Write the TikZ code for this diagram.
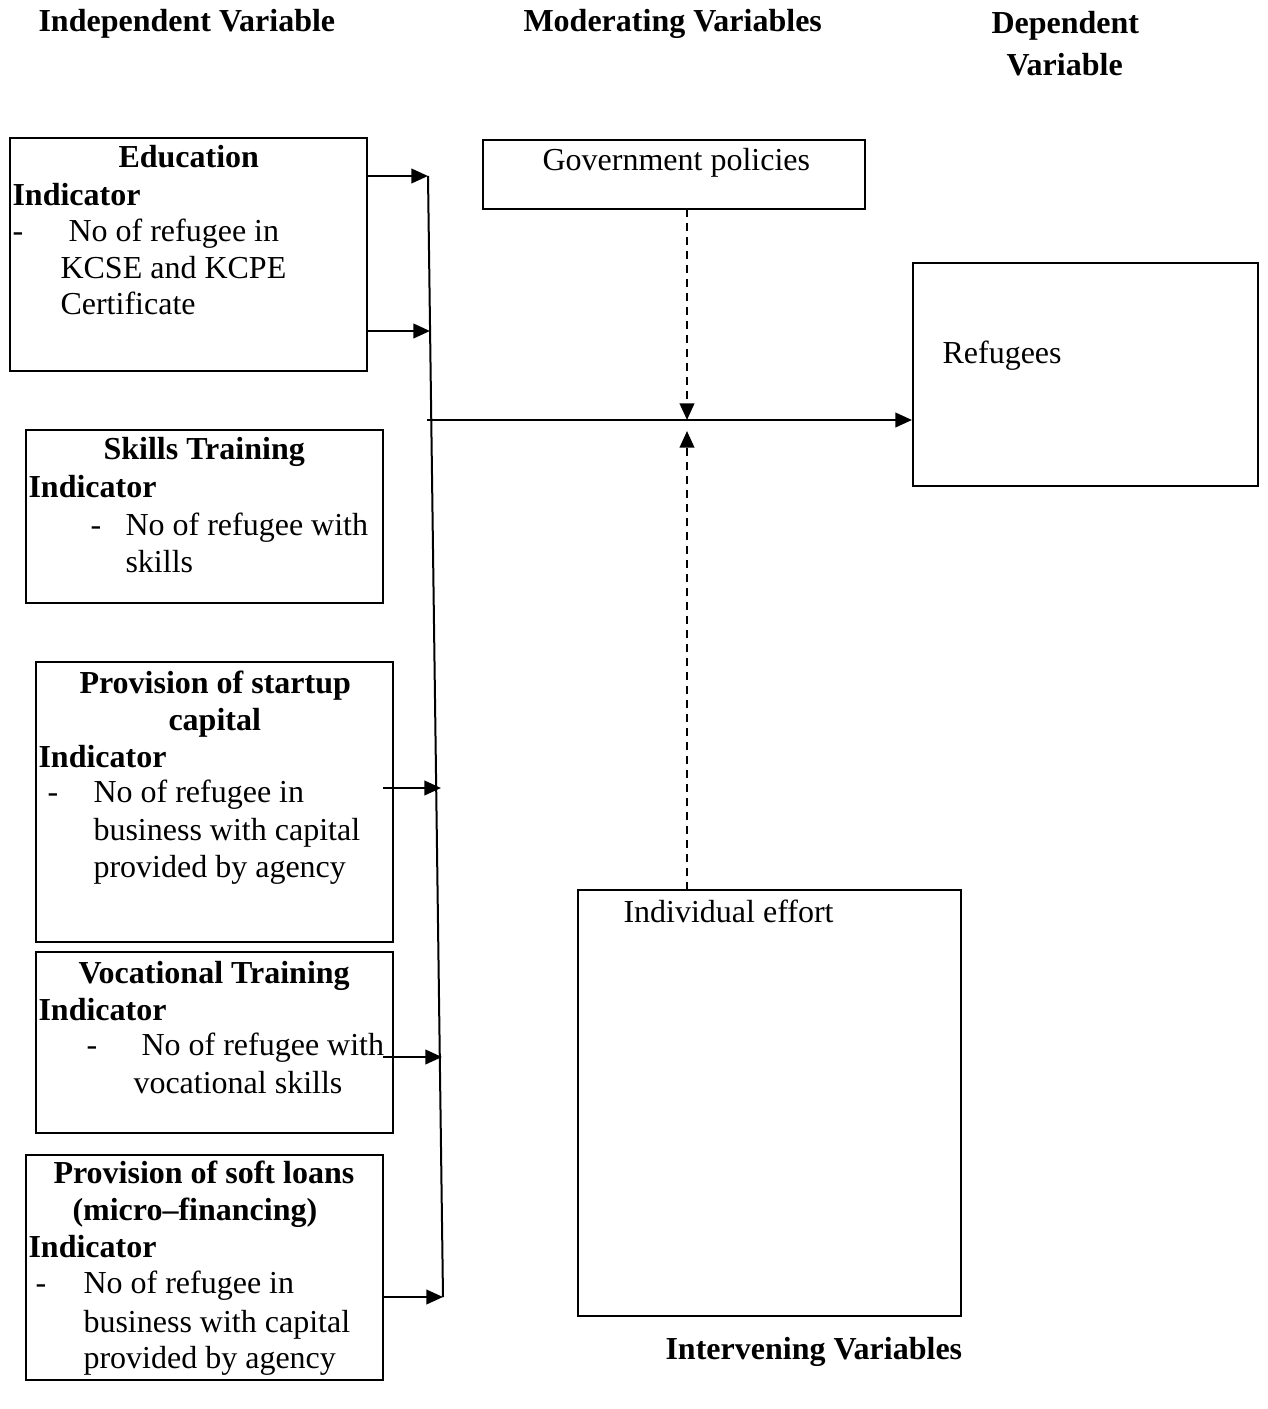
\documentclass[tikz,border=0pt]{standalone}
\usepackage{fontspec}
\setmainfont{Liberation Serif}
\usetikzlibrary{arrows.meta,fit}
\begin{document}
\begin{tikzpicture}[x=0.375pt,y=-0.375pt,
  box/.style={draw,line width=0.75pt,inner sep=0pt},
  txt/.style={anchor=base west,inner sep=0pt,font=\fontsize{12}{14}\selectfont},
  btxt/.style={anchor=base west,inner sep=0pt,font=\fontsize{12}{14}\selectfont\bfseries},
  arr/.style={line width=0.9pt,-{Triangle[length=6.2pt,width=5.4pt]}},
  dsh/.style={arr,dash pattern=on 3pt off 2.25pt}]
\useasboundingbox (0,0) rectangle (1267,1409);

% headings
\node[btxt] (h1) at (38,32) {Independent Variable};
\node[btxt] (h2) at (523,32) {Moderating Variables};
\node[btxt] (h3) at (991,34) {Dependent};
\node[btxt] (h4) at (1006,76) {Variable};
\node[btxt] (h5) at (665,1359) {Intervening Variables};

% boxes
\node[box,fit={(10,138) (367,371)}] (edu) {};
\node[box,fit={(26,430) (383,603)}] (skl) {};
\node[box,fit={(36,662) (393,942)}] (cap) {};
\node[box,fit={(36,952) (393,1133)}] (voc) {};
\node[box,fit={(26,1155) (383,1380)}] (loan) {};
\node[box,fit={(483,140) (865,209)}] (gov) {};
\node[box,fit={(913,263) (1258,486)}] (ref) {};
\node[box,fit={(578,890) (961,1316)}] (ind) {};

% education text
\node[btxt] (e1) at (118,168) {Education};
\node[btxt] (e2) at (12,205) {Indicator};
\node[txt] (e3) at (12,241) {-};
\node[txt] (e4) at (68,241) {No of refugee in};
\node[txt] (e5) at (60,278) {KCSE and KCPE};
\node[txt] (e6) at (60,314) {Certificate};

% skills text
\node[btxt] (s1) at (103,459) {Skills Training};
\node[btxt] (s2) at (28,497) {Indicator};
\node[txt] (s3) at (90,535) {-};
\node[txt] (s4) at (125,535) {No of refugee with};
\node[txt] (s5) at (125,572) {skills};

% startup capital text
\node[btxt] (c1t) at (79,693) {Provision of startup};
\node[btxt] (c2t) at (168,730) {capital};
\node[btxt] (c3t) at (38,767) {Indicator};
\node[txt] (c4t) at (47,802) {-};
\node[txt] (c5t) at (93,802) {No of refugee in};
\node[txt] (c6t) at (93,840) {business with capital};
\node[txt] (c7t) at (93,877) {provided by agency};

% vocational text
\node[btxt] (v1) at (78,983) {Vocational Training};
\node[btxt] (v2) at (38,1020) {Indicator};
\node[txt] (v3) at (86,1055) {-};
\node[txt] (v4) at (141,1055) {No of refugee with};
\node[txt] (v5) at (133,1093) {vocational skills};

% soft loans text
\node[btxt] (l1) at (53,1183) {Provision of soft loans};
\node[btxt] (l2) at (72,1220) {(micro--financing)};
\node[btxt] (l3) at (28,1257) {Indicator};
\node[txt] (l4) at (35,1293) {-};
\node[txt] (l5) at (83,1293) {No of refugee in};
\node[txt] (l6) at (83,1332) {business with capital};
\node[txt] (l7) at (83,1368) {provided by agency};

% other texts
\node[txt] (gt) at (542,170) {Government policies};
\node[txt] (rt) at (942,363) {Refugees};
\node[txt] (it) at (623,922) {Individual effort};

% connector line
\coordinate (jtop) at (428,176);
\coordinate (jbot) at (443,1297);
\draw[line width=0.75pt] (jtop) -- (jbot);

\coordinate (a1s) at (367,176);
\coordinate (a2s) at (367,331);
\coordinate (a2e) at (430,331);
\coordinate (a3s) at (383,788);
\coordinate (a3e) at (441,788);
\coordinate (a4s) at (383,1057);
\coordinate (a4e) at (442,1057);
\coordinate (a5s) at (383,1297);
\draw[arr] (a1s) -- (jtop);
\draw[arr] (a2s) -- (a2e);
\draw[arr] (a3s) -- (a3e);
\draw[arr] (a4s) -- (a4e);
\draw[arr] (a5s) -- (jbot);

% main horizontal
\coordinate (hs) at (427,420);
\draw[arr] (hs) -- (ref.west |- hs);

% dashed
\coordinate (gd) at (687,209);
\coordinate (gde) at (687,420);
\coordinate (idd) at (687,890);
\coordinate (idde) at (687,431);
\draw[dsh] (gd) -- (gde);
\draw[dsh] (idd) -- (idde);
\end{tikzpicture}
\end{document}
